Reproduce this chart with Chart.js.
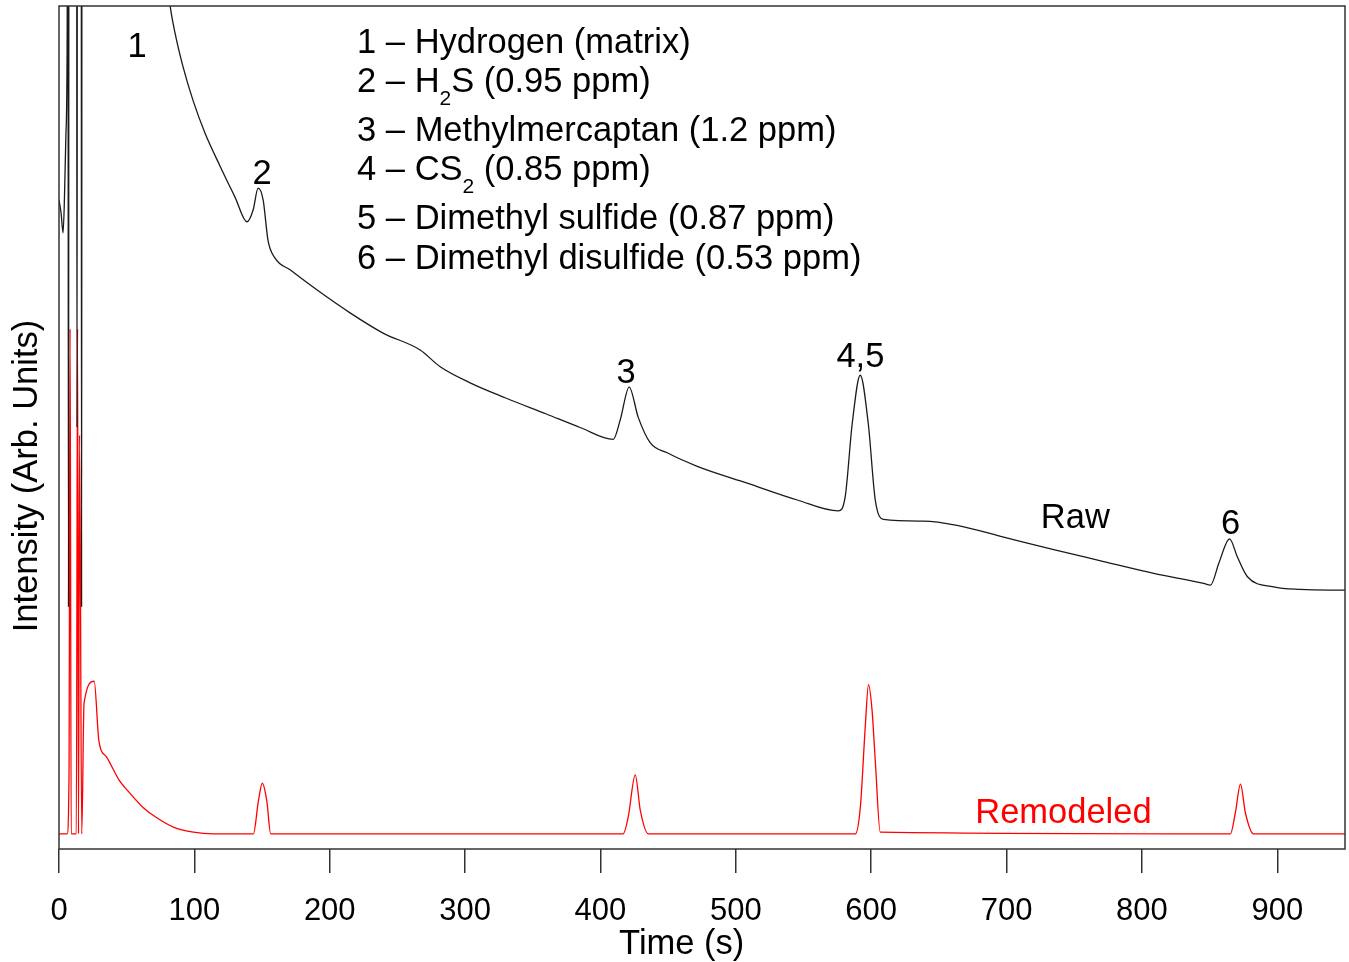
<!DOCTYPE html>
<html>
<head>
<meta charset="utf-8">
<script src="https://cdn.jsdelivr.net/npm/chart.js@4/dist/chart.umd.min.js"></script>
<style>
  html, body { margin: 0; padding: 0; background: #ffffff; }
  #wrap { width: 1349px; height: 962px; }
</style>
</head>
<body>
<div id="wrap"><canvas id="c" width="1349" height="962"></canvas></div>
<script>
// ---- Data (time in s, intensity in arbitrary units 0-100) ----
const rawTime = [0, 1.5, 3, 4, 5, 6, 6.6, 7.0, 7.4, 13.0, 13.3, 13.6, 16.4, 16.7, 17.0, 78, 82, 85.7, 91.6, 99, 107.9, 119, 130.1, 138.9, 143.4, 147.1, 150.8, 154.4, 159.6, 170.7, 190.7, 215, 239.4, 266.8, 281.6, 303.7, 330, 360, 385, 409.4, 414.6, 421.2, 427.9, 436.7, 449.3, 471.5, 508.4, 545.4, 575.7, 580.8, 586, 591.9, 597.8, 603, 609, 638.7, 663.4, 697.8, 734.8, 771.8, 808.7, 845.6, 850.6, 857, 864.7, 870.6, 877.9, 897.2, 917.1, 950];
const rawIntensity = [77.0, 75.5, 73.1, 77.0, 84.0, 95.0, 130, 28.7, 130, 130, 50.0, 130, 130, 28.7, 130, 106, 100.1, 96.8, 92.8, 88.8, 84.9, 81.0, 77.3, 74.4, 75.8, 78.4, 77.0, 72.2, 70.1, 68.7, 66.3, 63.6, 61.2, 59.2, 57.2, 55.3, 53.5, 51.6, 50.0, 48.6, 50.9, 54.8, 51.2, 48.2, 47.0, 45.4, 43.4, 41.4, 40.1, 41.8, 50.5, 56.2, 50.5, 41.4, 39.1, 38.9, 38.4, 37.0, 35.5, 34.1, 32.7, 31.5, 31.3, 34.0, 36.8, 34.6, 32.3, 31.1, 30.8, 30.7];

const remodTime = [0, 6.0, 7.4, 8.2, 9.0, 12.8, 13.7, 14.4, 15.2, 16.8, 18.5, 26, 29.5, 35.2, 44.3, 52.5, 62.3, 72.2, 84.5, 99.3, 113.8, 143.6, 147.3, 150.2, 153.5, 156.4, 416.8, 420.5, 425.7, 429.4, 435.3, 588.3, 592, 595.6, 598, 600.6, 603, 606.7, 865.4, 869, 872.8, 876.4, 882.4, 950];
const remodIntensity = [1.8, 1.8, 8.8, 61.7, 1.8, 1.8, 61.7, 1.8, 49.1, 1.8, 17.3, 19.9, 12.8, 10.9, 8.2, 6.6, 4.9, 3.7, 2.6, 2.0, 1.8, 1.8, 5.7, 7.8, 5.7, 1.8, 1.8, 3.8, 8.8, 4.6, 1.8, 1.8, 5.0, 14.5, 19.5, 16.5, 10.5, 2.0, 1.8, 4.3, 7.7, 4.3, 1.8, 1.8];

const xTicks = [0, 100, 200, 300, 400, 500, 600, 700, 800, 900];

// Peak labels (text, time, intensity)
const peakLabelText = ['1', '2', '3', '4,5', '6'];
const peakLabelTime = [57.6, 150, 419, 592, 865.4];
const peakLabelValue = [95.4, 80.4, 56.8, 58.6, 38.8];

// Legend (compound list) lines; segments with sub=true are subscripts
const legendLines = [
  [{ t: '1 – Hydrogen (matrix)' }],
  [{ t: '2 – H' }, { t: '2', sub: true }, { t: 'S (0.95 ppm)' }],
  [{ t: '3 – Methylmercaptan (1.2 ppm)' }],
  [{ t: '4 – CS' }, { t: '2', sub: true }, { t: ' (0.85 ppm)' }],
  [{ t: '5 – Dimethyl sulfide (0.87 ppm)' }],
  [{ t: '6 – Dimethyl disulfide (0.53 ppm)' }]
];
const legendTime = 220.2;
const legendValue = [95.9, 91.3, 85.4, 80.8, 75.0, 70.3];

const FONT_FAMILY = '"Liberation Sans", Arial, sans-serif';

function toPoints(xs, ys) { return xs.map((x, i) => ({ x: x, y: ys[i] })); }

const textPlugin = {
  id: 'texts',
  afterDraw(chart) {
    const ctx = chart.ctx;
    const xs = chart.scales.x, ys = chart.scales.y;
    const a = chart.chartArea;
    ctx.save();
    // frame
    ctx.strokeStyle = '#333';
    ctx.lineWidth = 1.5;
    ctx.strokeRect(a.left, a.top, a.right - a.left, a.bottom - a.top);

    const fs = 34.5;
    function put(text, px, py, align, color, size) {
      ctx.font = size + 'px ' + FONT_FAMILY;
      ctx.fillStyle = color;
      ctx.textAlign = align;
      ctx.textBaseline = 'alphabetic';
      ctx.fillText(text, px, py + 0.36 * size);
    }
    // peak labels
    peakLabelText.forEach((t, i) => {
      put(t, xs.getPixelForValue(peakLabelTime[i]), ys.getPixelForValue(peakLabelValue[i]), 'center', '#000', fs);
    });
    put('Raw', xs.getPixelForValue(750.8), ys.getPixelForValue(39.5), 'center', '#000', fs);
    put('Remodeled', xs.getPixelForValue(742), ys.getPixelForValue(4.6), 'center', '#ff0000', fs);

    // compound list
    legendLines.forEach((segs, i) => {
      let px = xs.getPixelForValue(legendTime);
      const py = ys.getPixelForValue(legendValue[i]) + 0.36 * fs;
      segs.forEach(s => {
        const size = s.sub ? 21 : fs;
        ctx.font = size + 'px ' + FONT_FAMILY;
        ctx.fillStyle = '#000';
        ctx.textAlign = 'left';
        ctx.textBaseline = 'alphabetic';
        const yy = s.sub ? py + 13 : py;
        ctx.fillText(s.t, px, yy);
        px += ctx.measureText(s.t).width;
      });
    });

    // axis titles
    put('Time (s)', xs.getPixelForValue(460), 942, 'center', '#000', fs);
    ctx.save();
    ctx.translate(25, 476);
    ctx.rotate(-Math.PI / 2);
    put('Intensity (Arb. Units)', 0, 0, 'center', '#000', fs);
    ctx.restore();
    ctx.restore();
  }
};

new Chart(document.getElementById('c'), {
  type: 'line',
  data: {
    datasets: [
      {
        label: 'Raw',
        data: toPoints(rawTime, rawIntensity),
        borderColor: '#1a1a1a',
        borderWidth: 1.3,
        pointRadius: 0,
        cubicInterpolationMode: 'monotone',
        fill: false
      },
      {
        label: 'Remodeled',
        data: toPoints(remodTime, remodIntensity),
        borderColor: '#ff0000',
        borderWidth: 1.3,
        pointRadius: 0,
        cubicInterpolationMode: 'monotone',
        fill: false
      }
    ]
  },
  options: {
    responsive: false,
    animation: false,
    events: [],
    layout: { padding: { left: 59, top: 6, right: 4, bottom: 0 } },
    plugins: { legend: { display: false }, tooltip: { enabled: false } },
    scales: {
      x: {
        type: 'linear',
        min: 0,
        max: 950,
        afterFit(scale) { scale.height = 113; },
        afterBuildTicks(scale) { scale.ticks = xTicks.map(v => ({ value: v })); },
        border: { display: false },
        grid: {
          drawOnChartArea: false,
          drawTicks: true,
          tickLength: 24,
          color: '#333',
          lineWidth: 1.5
        },
        ticks: {
          color: '#000',
          font: { family: FONT_FAMILY, size: 31 },
          padding: 20,
          maxRotation: 0,
          autoSkip: false
        }
      },
      y: {
        display: false,
        min: 0,
        max: 100
      }
    }
  },
  plugins: [textPlugin]
});
</script>
</body>
</html>
